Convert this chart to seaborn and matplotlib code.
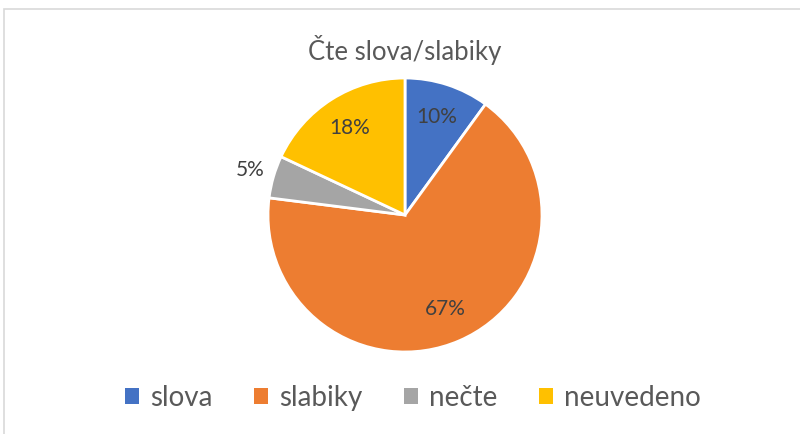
import numpy as np
import matplotlib
matplotlib.use("Agg")
import matplotlib.pyplot as plt
from matplotlib.patches import Patch, Rectangle
import seaborn as sns

# data
categories = ["slova", "slabiky", "nečte", "neuvedeno"]
shares = [10, 67, 5, 18]
colors = ["#4472C4", "#ED7D31", "#A5A5A5", "#FFC000"]
title = "Čte slova/slabiky"

sns.set_theme(style="white")
plt.rcParams["font.family"] = ["Lato", "DejaVu Sans"]

fig = plt.figure(figsize=(8, 4.34), dpi=100)
W, H = 800, 434

# chart frame (Excel-like border)
fig.patches.append(Rectangle((4 / W, -0.2), 1.2, 1.2 - 9 / H, transform=fig.transFigure,
                             fill=False, edgecolor="#D9D9D9", linewidth=1.2))

cx, cy, r = 405, 215, 137
ax = fig.add_axes([(cx - r) / W, (H - cy - r) / H, 2 * r / W, 2 * r / H])
wedges, texts, autotexts = ax.pie(
    shares, colors=colors, startangle=90, counterclock=False,
    autopct="%1.0f%%", pctdistance=0.75, radius=1,
    wedgeprops=dict(edgecolor="white", linewidth=2),
    textprops=dict(color="#404040", fontsize=15))
ax.set_aspect("equal")
ax.set_xlim(-1, 1)
ax.set_ylim(-1, 1)

# small slice label goes outside
for w, t, s in zip(wedges, autotexts, shares):
    if s < 8:
        ang = np.deg2rad((w.theta1 + w.theta2) / 2)
        t.set_position((1.18 * np.cos(ang), 1.18 * np.sin(ang)))

fig.text(cx / W, 1 - 50 / H, title, ha="center", va="center",
         fontsize=18.5, color="#595959")

handles = [Patch(facecolor=c, edgecolor="none") for c in colors]
fig.legend(handles, categories, loc="center", bbox_to_anchor=(413 / W, 1 - 398 / H),
           ncol=4, frameon=False, fontsize=20, handlelength=0.5, handleheight=0.5,
           handletextpad=0.4, columnspacing=1.5, labelcolor="#595959")

fig.savefig("out.png", dpi=100)
